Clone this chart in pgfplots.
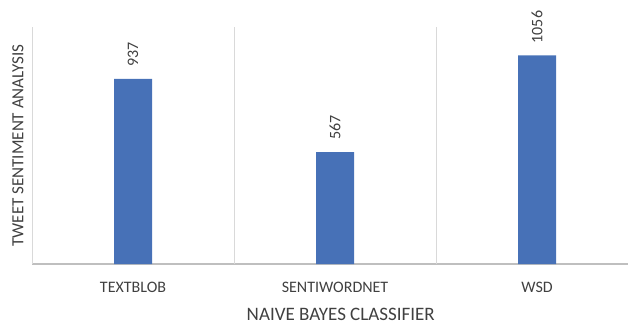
\documentclass[border=0pt]{standalone}
\usepackage{pgfplots}
\pgfplotsset{compat=1.18}
\usepackage{fontspec}
\setmainfont{Carlito}

\definecolor{barblue}{HTML}{4771B7}
\definecolor{gridgray}{HTML}{D9D9D9}
\definecolor{axisgray}{HTML}{BFBFBF}
\definecolor{textgray}{HTML}{404040}

\begin{document}
\begin{tikzpicture}
\begin{axis}[
  at={(32bp,60bp)}, anchor=south west,
  scale only axis, width=596bp, height=237bp,
  xmin=-0.5, xmax=2.45, ymin=0, ymax=1200,
  axis x line*=bottom, axis y line*=left,
  x axis line style={draw=axisgray, line width=1.2bp, -},
  y axis line style={draw=gridgray, line width=0.9bp, -},
  ytick=\empty,
  xtick={0,1,2},
  xticklabels={TEXTBLOB, SENTIWORDNET, WSD},
  major tick length=0pt,
  extra x ticks={0.5,1.5},
  extra x tick labels={},
  extra x tick style={grid=major, major tick length=0pt},
  grid style={draw=gridgray, line width=0.9bp},
  xticklabel style={font=\fontsize{16bp}{19bp}\selectfont, text=textgray, anchor=base, yshift=-28bp},
  xlabel={NAIVE BAYES CLASSIFIER},
  xlabel style={at={(axis description cs:0.518,0)}, anchor=base, yshift=-56.5bp,
    font=\fontsize{19bp}{22bp}\selectfont, text=textgray},
  ylabel={TWEET SENTIMENT ANALYSIS},
  ylabel style={at={(axis description cs:-0.0235,0.5)}, anchor=center,
    font=\fontsize{17bp}{20bp}\selectfont, text=textgray},
  ybar, bar width=38bp,
  /pgf/number format/assume math mode=true,
  /pgf/number format/1000 sep={},
  nodes near coords,
  every node near coord/.append style={font=\fontsize{16bp}{19bp}\selectfont, text=textgray,
    rotate=90, anchor=west, inner sep=0pt, xshift=12bp},
  clip=false,
]
\addplot[fill=barblue, draw=none] coordinates {(0,937) (1,567) (2,1056)};
\end{axis}
\pgfresetboundingbox
\path (0,0) rectangle (628bp,324bp);
\end{tikzpicture}
\end{document}
